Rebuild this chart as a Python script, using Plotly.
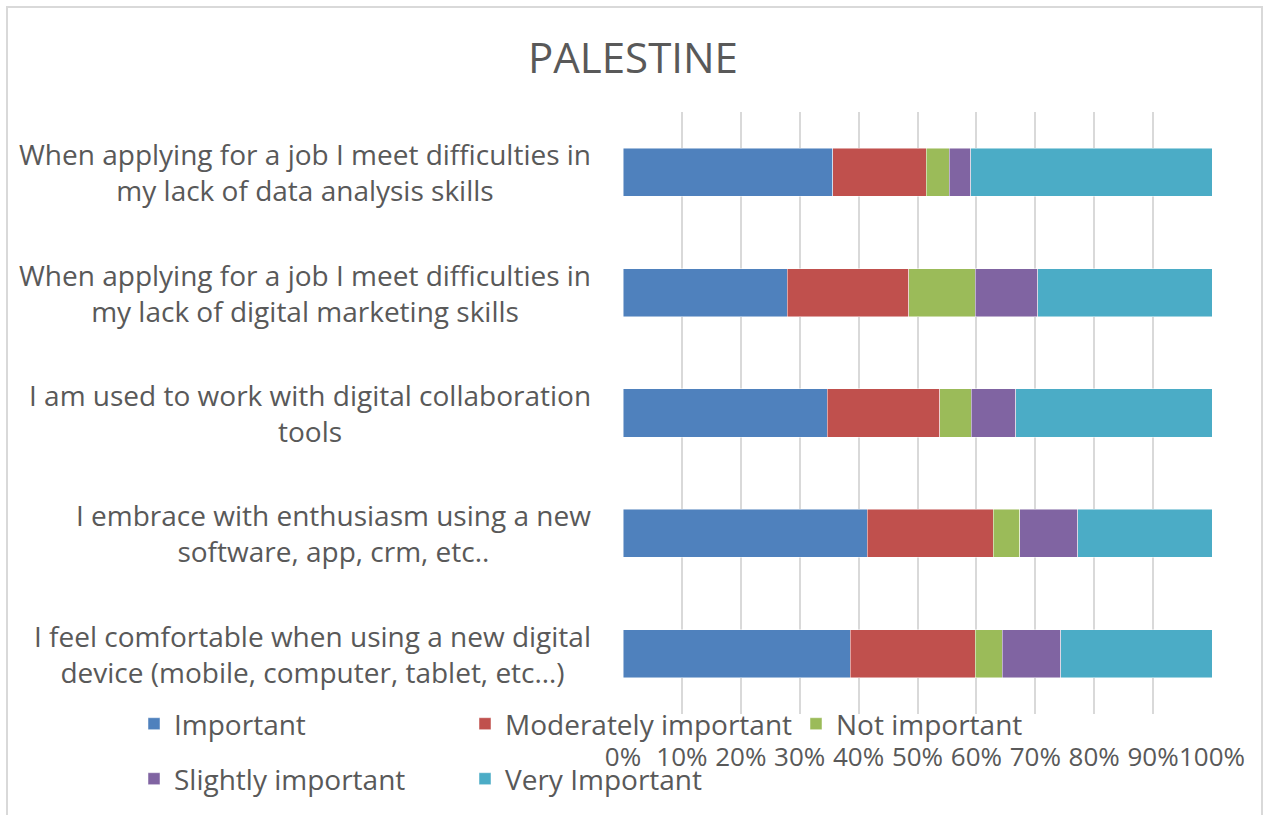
import plotly.graph_objects as go

categories = [
    "When applying for a job I meet difficulties in<br>my lack of data analysis skills",
    "When applying for a job I meet difficulties in<br>my lack of digital marketing skills",
    "I am used to work with digital collaboration<br>tools",
    "I embrace with enthusiasm using a new<br>software, app, crm, etc..",
    "I feel comfortable when using a new digital<br>device (mobile, computer, tablet, etc…)",
]
cat_ids = ["q1", "q2", "q3", "q4", "q5"]

important = [35.6, 27.9, 34.7, 41.5, 38.6]
moderately = [15.9, 20.6, 19.1, 21.4, 21.2]
not_important = [3.9, 11.3, 5.3, 4.5, 4.6]
slightly = [3.6, 10.6, 7.6, 9.8, 9.9]
very = [41.0, 29.6, 33.3, 22.8, 25.7]

series_names = ["Important", "Moderately important", "Not important",
                "Slightly important", "Very Important"]
series_values = [important, moderately, not_important, slightly, very]
series_colors = ["#4F81BD", "#C0504D", "#9BBB59", "#8064A2", "#4BACC6"]
series_legend = ["legend", "legend", "legend", "legend2", "legend2"]

tick_vals = [0, 10, 20, 30, 40, 50, 60, 70, 80, 90, 100]
tick_text = ["0%", "10%", "20%", "30%", "40%", "50%", "60%", "70%", "80%", "90%", "100%"]

FONT = "Open Sans"
GREY = "#595959"
FS = 28

fig = go.Figure()
for name, vals, col, lg in zip(series_names, series_values, series_colors, series_legend):
    fig.add_trace(go.Bar(
        y=cat_ids, x=vals, name=name, orientation="h",
        marker=dict(color=col, line=dict(color="rgba(255,255,255,0.6)", width=0.8)),
        legend=lg,
    ))

for cid, label in zip(cat_ids, categories):
    fig.add_annotation(
        x=0, xref="paper", y=cid, yref="y", text=label, showarrow=False,
        xanchor="right", yanchor="middle", align="center", xshift=-30,
        font=dict(family=FONT, size=FS, color=GREY),
    )

fig.add_shape(type="rect", xref="paper", yref="paper",
              x0=(7 - 623) / 589, x1=(1262 - 623) / 589,
              y0=(714 - 830) / 602, y1=(714 - 7) / 602,
              line=dict(color="#d9d9d9", width=2), fillcolor="rgba(0,0,0,0)", layer="below")

fig.update_layout(
    width=1266, height=815,
    margin=dict(l=623, r=54, t=112, b=101, autoexpand=False),
    barmode="stack", bargap=0.6,
    plot_bgcolor="white", paper_bgcolor="white",
    font=dict(family=FONT, color=GREY, size=FS),
    title=dict(text="PALESTINE", x=0.5, xanchor="center", xref="container",
               y=1 - 58 / 815, yanchor="middle", yref="container",
               font=dict(family=FONT, size=42, color=GREY)),
    xaxis=dict(range=[0, 100], tickvals=tick_vals, ticktext=tick_text,
               showgrid=True, gridcolor="#d9d9d9", gridwidth=2,
               zeroline=False, showline=False, ticks="", tickangle=0,
               ticklabelstandoff=25, ticklabeloverflow="allow",
               tickfont=dict(family=FONT, size=26, color=GREY), fixedrange=True),
    yaxis=dict(autorange="reversed", showticklabels=False, showgrid=False,
               zeroline=False, showline=False, ticks="", fixedrange=True),
    legend=dict(orientation="h", x=(134 - 623) / 589, xanchor="left",
                y=-10 / 602, yanchor="middle",
                entrywidth=286, entrywidthmode="pixels",
                font=dict(family=FONT, size=FS, color=GREY),
                bgcolor="rgba(0,0,0,0)", traceorder="normal"),
    legend2=dict(orientation="h", x=(134 - 623) / 589, xanchor="left",
                 y=-65 / 602, yanchor="middle",
                 entrywidth=286, entrywidthmode="pixels",
                 font=dict(family=FONT, size=FS, color=GREY),
                 bgcolor="rgba(0,0,0,0)", traceorder="normal"),
    showlegend=True,
)

fig.write_html("out.html")
